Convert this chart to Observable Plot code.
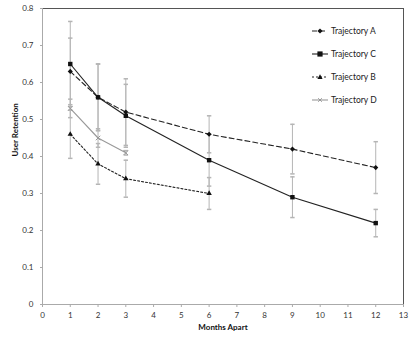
<!DOCTYPE html>
<html>
<head>
<meta charset="utf-8">
<script src="https://cdn.jsdelivr.net/npm/d3@7"></script>
<script src="https://cdn.jsdelivr.net/npm/@observablehq/plot@0.6"></script>
<style>
  body { margin: 0; background: #fff; }
  #wrap { position: relative; width: 415px; height: 343px; font-family: Lato, "Liberation Sans", sans-serif; }
  #legend { position: absolute; left: 312px; top: 19px; font-size: 8.5px; color: #222; }
  #legend .row { display: flex; align-items: center; height: 23px; }
  #legend svg { margin-right: 2px; }
</style>
</head>
<body>
<div id="wrap"></div>
<script>
// ---- data ----
const monthsAC = [1, 2, 3, 6, 9, 12];
const trajA = [0.63, 0.56, 0.52, 0.46, 0.42, 0.37];
const errA  = [0.09, 0.09, 0.09, 0.05, 0.067, 0.07];
const trajC = [0.65, 0.56, 0.51, 0.39, 0.29, 0.22];
const errC  = [0.115, 0.09, 0.085, 0.07, 0.055, 0.037];
const monthsB = [1, 2, 3, 6];
const trajB = [0.46, 0.38, 0.34, 0.30];
const errB  = [0.065, 0.055, 0.05, 0.043];
const monthsD = [1, 2, 3];
const trajD = [0.53, 0.45, 0.41];
const errD  = [0.025, 0.025, 0.006];
const xTicks = d3.range(0, 14);
const yTicks = [0, 0.1, 0.2, 0.3, 0.4, 0.5, 0.6, 0.7, 0.8];

const seriesDefs = [
  {name: "Trajectory A", months: monthsAC, vals: trajA, errs: errA, stroke: "#222", dash: "5,3", symbol: "diamond2", r: 2.3, fill: "#111", sym: "diamond"},
  {name: "Trajectory C", months: monthsAC, vals: trajC, errs: errC, stroke: "#222", dash: null, symbol: "square2", r: 2.8, fill: "#111", sym: "square"},
  {name: "Trajectory B", months: monthsB, vals: trajB, errs: errB, stroke: "#222", dash: "2,2", symbol: "triangle2", r: 2.6, fill: "#111", sym: "triangle"},
  {name: "Trajectory D", months: monthsD, vals: trajD, errs: errD, stroke: "#999", dash: null, symbol: "times", r: 2.2, fill: "none", sym: "times"}
];

const rows = seriesDefs.flatMap(s => s.months.map((m, i) => ({series: s.name, x: m, y: s.vals[i], e: s.errs[i]})));

// horizontal cap symbol for error bars
const capSymbol = { draw(ctx, size) { const r = 2.2; ctx.moveTo(-r, 0); ctx.lineTo(r, 0); } };

const marks = [
  Plot.frame({stroke: "#555", strokeWidth: 1}),
  Plot.ruleX([0], {y1: 0, y2: 0.8, stroke: "#aaa"}),
  Plot.ruleY([0], {x1: 0, x2: 13, stroke: "#aaa"}),
  Plot.axisX({ticks: xTicks, tickSize: 3, tickPadding: 5, stroke: "#aaa", label: null, fill: "#333"}),
  Plot.axisY({ticks: yTicks, tickSize: 2, tickPadding: 7, label: null, fill: "#333", stroke: "#aaa",
    tickFormat: d => d === 0 ? "0" : d3.format(".1f")(d)}),
  // error bars
  Plot.ruleX(rows, {x: "x", y1: d => d.y - d.e, y2: d => d.y + d.e, stroke: "#b5b5b5", strokeWidth: 1}),
  Plot.dot(rows, {x: "x", y: d => d.y + d.e, symbol: capSymbol, r: 2, stroke: "#b5b5b5", fill: "none"}),
  Plot.dot(rows, {x: "x", y: d => d.y - d.e, symbol: capSymbol, r: 2, stroke: "#b5b5b5", fill: "none"}),
];
for (const s of seriesDefs) {
  const data = rows.filter(d => d.series === s.name);
  marks.push(Plot.line(data, {x: "x", y: "y", stroke: s.stroke, strokeWidth: 1.1, strokeDasharray: s.dash}));
}
for (const s of seriesDefs) {
  const data = rows.filter(d => d.series === s.name);
  if (s.fill === "none") {
    marks.push(Plot.dot(data, {x: "x", y: "y", symbol: s.symbol, r: s.r, stroke: s.stroke, strokeWidth: 1}));
  } else {
    marks.push(Plot.dot(data, {x: "x", y: "y", symbol: s.symbol, r: s.r, fill: s.fill, stroke: "none"}));
  }
}
marks.push(Plot.text(["User Retention"], {frameAnchor: "left", rotate: -90, dx: -27, fontWeight: "bold", fontSize: 8, fill: "#111"}));
marks.push(Plot.text(["Months Apart"], {frameAnchor: "bottom", dy: 25, fontWeight: "bold", fontSize: 8, fill: "#111"}));

const chart = Plot.plot({
  width: 415,
  height: 343,
  marginLeft: 42,
  marginRight: 12,
  marginTop: 8,
  marginBottom: 39,
  style: {fontFamily: "Lato, 'Liberation Sans', sans-serif", fontSize: "8px", background: "#fff"},
  x: {domain: [0, 13]},
  y: {domain: [0, 0.8]},
  symbol: {type: "identity"},
  marks
});
const wrap = document.getElementById("wrap");
wrap.appendChild(chart);

// legend (HTML overlay inside plot area)
const legend = document.createElement("div");
legend.id = "legend";
const symPaths = {
  diamond: '<path d="M8,-2.6 L10.6,0 L8,2.6 L5.4,0Z" fill="#111"/>',
  square: '<rect x="5.4" y="-2.6" width="5.2" height="5.2" fill="#111"/>',
  triangle: '<path d="M8,-2.8 L10.6,2 L5.4,2Z" fill="#111"/>',
  times: '<path d="M6.2,-1.8 L9.8,1.8 M9.8,-1.8 L6.2,1.8" stroke="#999" stroke-width="1"/>'
};
for (const s of seriesDefs) {
  const row = document.createElement("div");
  row.className = "row";
  row.innerHTML = `<svg width="17" height="8" viewBox="0 -4 17 8"><line x1="0" x2="16" y1="0" y2="0" stroke="${s.stroke}" stroke-width="1.1" ${s.dash ? `stroke-dasharray="${s.dash}"` : ""}/>${symPaths[s.sym]}</svg><span>${s.name}</span>`;
  legend.appendChild(row);
}
wrap.appendChild(legend);
</script>
</body>
</html>
